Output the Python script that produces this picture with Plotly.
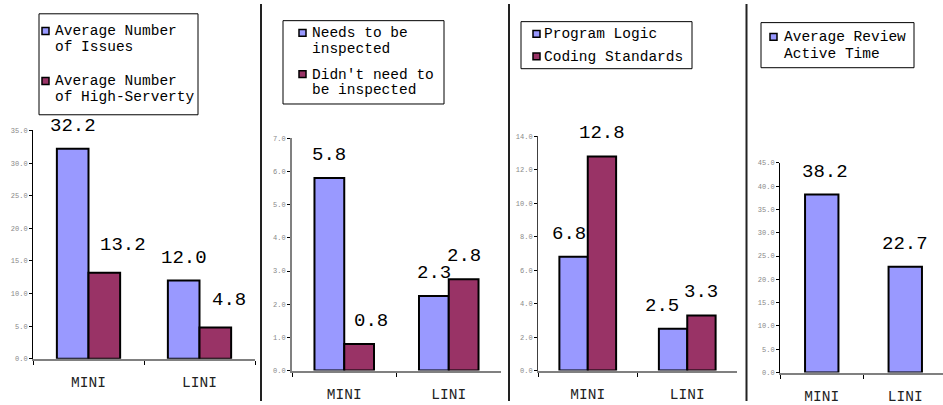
import plotly.graph_objects as go

# ---------------- data ----------------
categories = ["MINI", "LINI"]

issues_names = ["Average Number<br>of Issues", "Average Number<br>of High-Serverty"]
issues_avg = [32.2, 12.0]
issues_high = [13.2, 4.8]

inspect_names = ["Needs to be<br>inspected", "Didn't need to<br>be inspected"]
inspect_needed = [5.8, 2.25]
inspect_not = [0.8, 2.75]
inspect_needed_labels = ["5.8", "2.3"]
inspect_not_labels = ["0.8", "2.8"]

defect_names = ["Program Logic", "Coding Standards"]
program_logic = [6.8, 2.5]
coding_standards = [12.8, 3.3]

review_names = ["Average Review<br>Active Time"]
review_time = [38.2, 22.7]

y_ranges = [[0, 35], [0, 7], [0, 14], [0, 45]]
y_dticks = [5, 1, 2, 5]

# ---------------- style ----------------
W, H = 943, 405
BLUE = "#9999FF"
MAROON = "#993366"
FONT = "Liberation Mono, Courier New, monospace"


def fx(px):
    return px / W


def fy(py):
    return 1 - py / H


# panel geometry in pixels: x0, x1, y_bottom, y_top, x range
panels = [
    dict(x=(33, 255), y=(362, 129), xr=[-0.5, 1.5], yline="#000000", ylw=1),
    dict(x=(292, 501), y=(374, 137), xr=[-0.5, 1.5], yline="#808080", ylw=2),
    dict(x=(538, 737), y=(374, 135), xr=[-0.5, 1.5], yline="#404040", ylw=1),
    dict(x=(780, 943), y=(376, 162), xr=[-0.5, 1.452], yline="#000000", ylw=1),
]

BARGAP = 0.43

series = [
    # panel, values, labels, color, name, width, slot
    (0, issues_avg, None, BLUE, issues_names[0], None, 0),
    (0, issues_high, None, MAROON, issues_names[1], None, 1),
    (1, inspect_needed, inspect_needed_labels, BLUE, inspect_names[0], None, 0),
    (1, inspect_not, inspect_not_labels, MAROON, inspect_names[1], None, 1),
    (2, program_logic, None, BLUE, defect_names[0], None, 0),
    (2, coding_standards, None, MAROON, defect_names[1], None, 1),
    (3, review_time, None, BLUE, review_names[0], 0.4, -1),
]

# per-label nudges (px) : (panel, slot, category index) -> (dx, dy)
nudges = {
    (0, 1, 0): (19, 5), (0, 1, 1): (14, 5),
    (1, 1, 0): (12, 0),
    (2, 0, 0): (-5, 0), (2, 0, 1): (-11, 0),
    (3, -1, 0): (3, 0),
}

fig = go.Figure()
annotations = []
shapes = []

for p, vals, labels, color, name, width, slot in series:
    ax = "" if p == 0 else str(p + 1)
    kw = {}
    if width is not None:
        kw["width"] = width
    fig.add_trace(go.Bar(
        x=categories, y=vals, name=name.replace("<br>", " "),
        marker=dict(color=color, line=dict(color="#000000", width=2)),
        xaxis="x" + ax, yaxis="y" + ax, showlegend=False,
        hoverinfo="x+y", **kw))
    pan = panels[p]
    cat_px = (pan["x"][1] - pan["x"][0]) / (pan["xr"][1] - pan["xr"][0])
    if slot == -1:
        off = 0
    else:
        half = (1 - BARGAP) / 2
        off = (-half / 2 if slot == 0 else half / 2) * cat_px
    for i, (c, v) in enumerate(zip(categories, vals)):
        txt = labels[i] if labels else f"{v:.1f}"
        dx, dy = nudges.get((p, slot, i), (0, 0))
        annotations.append(dict(
            x=c, y=v, xref="x" + ax, yref="y" + ax, text=txt, showarrow=False,
            xanchor="center", yanchor="middle", xshift=off + dx, yshift=23 + dy,
            font=dict(family=FONT, size=19, color="#000000")))

layout_axes = {}
for p, pan in enumerate(panels):
    ax = "" if p == 0 else str(p + 1)
    layout_axes["xaxis" + ax] = dict(
        domain=[fx(pan["x"][0]), fx(pan["x"][1])], range=pan["xr"], type="category",
        anchor="y" + ax, showline=True, linecolor="#808080", linewidth=2,
        ticks="outside", tickson="boundaries", ticklen=4, tickcolor="#000000",
        tickfont=dict(family=FONT, size=14.5, color="#222222"),
        showgrid=False, zeroline=False, fixedrange=True, ticklabelstandoff=9)
    layout_axes["yaxis" + ax] = dict(
        domain=[fy(pan["y"][0]), fy(pan["y"][1])], range=y_ranges[p], dtick=y_dticks[p],
        anchor="x" + ax, showline=True, linecolor=pan["yline"], linewidth=pan["ylw"],
        ticks="outside", ticklen=3, tickcolor="#000000", tickformat=".1f",
        tickfont=dict(family=FONT, size=7, color="#888888"),
        showgrid=False, zeroline=False, fixedrange=True, ticklabelstandoff=0)

# panel separators
for sx in [261, 509, 746.5]:
    shapes.append(dict(type="line", xref="paper", yref="paper", x0=fx(sx), x1=fx(sx),
                       y0=0, y1=1, line=dict(color="#222222", width=2)))

# legends (boxes drawn in page coordinates)
legend_defs = [
    dict(box=(39, 10, 198, 113), sw=42, tx=53, names=issues_names, colors=[BLUE, MAROON],
         first=[28, 79], step=16),
    dict(box=(283, 17, 444, 102), sw=299, tx=310, names=inspect_names, colors=[BLUE, MAROON],
         first=[30, 72], step=16),
    dict(box=(521, 18, 692, 66), sw=533, tx=542, names=defect_names, colors=[BLUE, MAROON],
         first=[31, 54], step=16),
    dict(box=(761, 19, 914, 65), sw=770, tx=782, names=review_names, colors=[BLUE],
         first=[34], step=17),
]
for lg in legend_defs:
    bx0, by0, bx1, by1 = lg["box"]
    shapes.append(dict(type="rect", xref="paper", yref="paper", x0=fx(bx0), x1=fx(bx1),
                       y0=fy(by1), y1=fy(by0), line=dict(color="#000000", width=1),
                       fillcolor="rgba(255,255,255,0)"))
    for name, color, ly in zip(lg["names"], lg["colors"], lg["first"]):
        shapes.append(dict(type="rect", xref="paper", yref="paper",
                           x0=fx(lg["sw"]), x1=fx(lg["sw"] + 7),
                           y0=fy(ly + 3), y1=fy(ly - 4),
                           line=dict(color="#000000", width=1.5), fillcolor=color))
        for k, line in enumerate(name.split("<br>")):
            annotations.append(dict(
                x=fx(lg["tx"]), y=fy(ly + k * lg["step"]), xref="paper", yref="paper",
                text=line, showarrow=False, xanchor="left", yanchor="middle",
                font=dict(family=FONT, size=14.5, color="#000000")))

fig.update_layout(
    width=W, height=H, margin=dict(l=0, r=0, t=0, b=0),
    paper_bgcolor="#FFFFFF", plot_bgcolor="rgba(0,0,0,0)",
    barmode="group", bargap=BARGAP, bargroupgap=0,
    annotations=annotations, shapes=shapes, showlegend=False,
    **layout_axes)

fig.write_html("out.html")
